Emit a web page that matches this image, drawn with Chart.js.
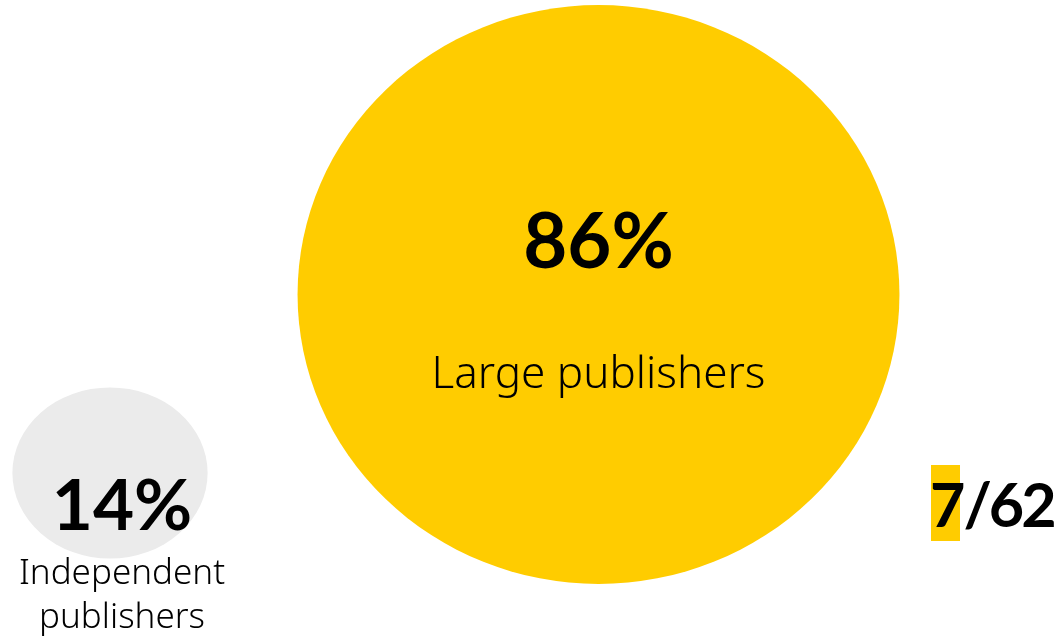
<!DOCTYPE html>
<html>
<head>
<meta charset="utf-8">
<script src="https://cdn.jsdelivr.net/npm/chart.js@4.4.1/dist/chart.umd.min.js"></script>
<style>
  html, body { margin: 0; padding: 0; background: #fff; }
  canvas { display: block; }
</style>
</head>
<body>
<canvas id="publishersChart" width="1063" height="639"></canvas>
<script>
// Share of titles by publisher type
const groupNames = ["Large publishers", ["Independent", "publishers"]];
const groupShares = [86, 14];
const groupColors = ['#FFCC00', '#EBEBEB'];

// Page counter shown at the right
const pageNumber = 7;
const pageTotal = 62;

// layout of the two bubbles (pixel space of the hidden axes)
const bubbleX = [598.5, 110];
const bubbleY = [294.5, 473];
const bubbleStretch = [1.04, 1.14];

// bubble radius grows with the share
function shareToRadius(share) {
    return 46 + 2.83 * share;
}

// draw each bubble slightly wider than tall
const stretchPlugin = {
    id: 'stretch',
    beforeDatasetDraw(chart, args) {
        const el = args.meta.data[0];
        const sx = chart.data.datasets[args.index].stretchX || 1;
        const ctx = chart.ctx;
        ctx.save();
        ctx.translate(el.x, el.y);
        ctx.scale(sx, 1);
        ctx.translate(-el.x, -el.y);
    },
    afterDatasetDraw(chart) {
        chart.ctx.restore();
    }
};

const labelPlugin = {
    id: 'labels',
    afterDraw(chart) {
        const ctx = chart.ctx;
        ctx.save();
        ctx.fillStyle = '#000';
        ctx.textAlign = 'center';
        ctx.textBaseline = 'alphabetic';

        // large publishers
        const big = chart.getDatasetMeta(0).data[0];
        ctx.font = 'bold 76px Lato';
        ctx.fillText(groupShares[0] + '%', big.x, big.y - 27);
        ctx.font = '300 44px "Noto Sans"';
        ctx.fillText(groupNames[0], big.x, big.y + 93.5);

        // independent publishers
        const small = chart.getDatasetMeta(1).data[0];
        const tx = small.x + 12;
        ctx.font = 'bold 71px Lato';
        ctx.fillText(groupShares[1] + '%', tx, small.y + 57);
        ctx.font = '300 35px "Noto Sans"';
        ctx.fillText(groupNames[1][0], tx, small.y + 111);
        ctx.fillText(groupNames[1][1], tx, small.y + 155);

        // page counter, current page highlighted
        ctx.textAlign = 'left';
        ctx.font = 'bold 61px Lato';
        ctx.letterSpacing = '-3px';
        const px = 930, py = 527;
        const m7 = ctx.measureText(String(pageNumber));
        ctx.fillStyle = '#FFCC00';
        ctx.fillRect(931, 465, 29, 76);
        ctx.fillStyle = '#000';
        ctx.fillText(String(pageNumber), px, py);
        ctx.fillText('/' + pageTotal, px + m7.width + 1, py);
        ctx.restore();
    }
};

const ctx = document.getElementById('publishersChart').getContext('2d');
const publishersChart = new Chart(ctx, {
    type: 'bubble',
    data: {
        datasets: groupShares.map((share, i) => ({
            label: Array.isArray(groupNames[i]) ? groupNames[i].join(' ') : groupNames[i],
            data: [{ x: bubbleX[i], y: bubbleY[i], r: shareToRadius(share) }],
            backgroundColor: groupColors[i],
            borderWidth: 0,
            hoverBorderWidth: 0,
            stretchX: bubbleStretch[i],
            clip: false
        }))
    },
    options: {
        responsive: false,
        animation: false,
        layout: { padding: 0, autoPadding: false },
        scales: {
            x: { type: 'linear', min: 0, max: 1063, display: false },
            y: { type: 'linear', min: 0, max: 639, reverse: true, display: false }
        },
        plugins: {
            legend: { display: false },
            tooltip: { enabled: false }
        }
    },
    plugins: [stretchPlugin, labelPlugin]
});
</script>
</body>
</html>
